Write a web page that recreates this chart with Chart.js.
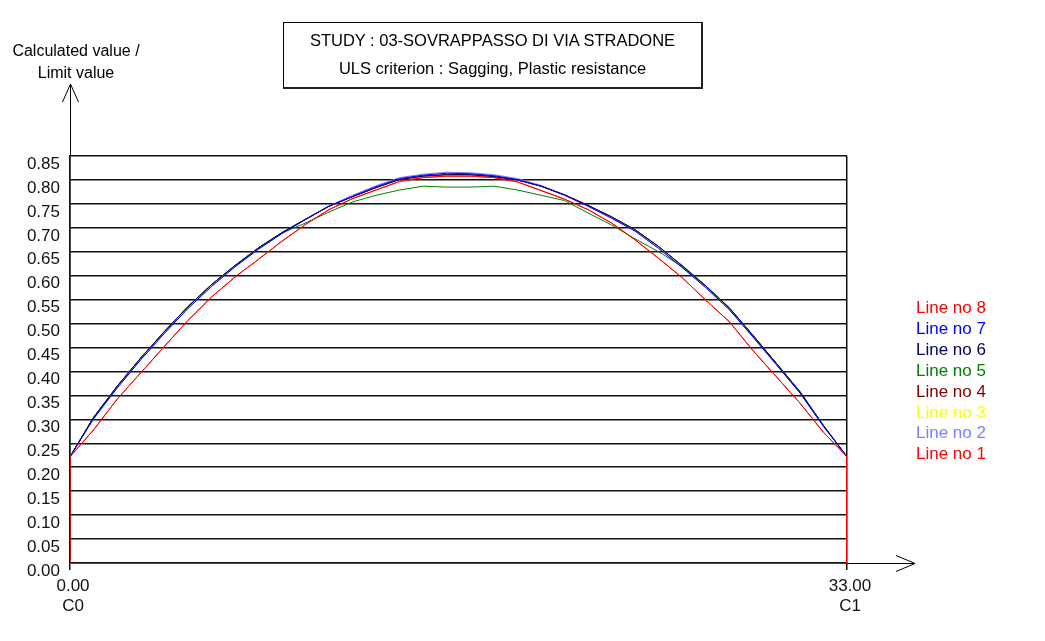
<!DOCTYPE html>
<html>
<head>
<meta charset="utf-8">
<title>ULS criterion : Sagging, Plastic resistance</title>
<script src="https://cdn.jsdelivr.net/npm/chart.js@4.4.0/dist/chart.umd.min.js"></script>
<style>
  html, body { margin: 0; padding: 0; background: #fff; }
  #wrap {
    position: relative;
    width: 1045px;
    height: 641px;
    font-family: "Liberation Sans", Arial, sans-serif;
    color: #000;
  }
  #chart { position: absolute; left: 0; top: 0; }
  .study {
    position: absolute;
    left: 283px;
    top: 22px;
    width: 420px;
    height: 67px;
    border: 1px solid #000;
    border-right: 2px solid #222;
    border-bottom: 2px solid #222;
    font-size: 16.5px;
    text-align: center;
    line-height: 28px;
    box-sizing: border-box;
    padding-top: 3px;
  }
  .ytitle {
    position: absolute;
    left: 0;
    top: 40px;
    width: 152px;
    font-size: 16px;
    line-height: 22px;
    text-align: center;
  }
  .legend {
    position: absolute;
    left: 916px;
    top: 298px;
    font-size: 17px;
    line-height: 20.9px;
  }
</style>
</head>
<body>
<div id="wrap">
  <canvas id="chart" width="1045" height="641"></canvas>
  <div class="study">STUDY : 03-SOVRAPPASSO DI VIA STRADONE<br>ULS criterion : Sagging, Plastic resistance</div>
  <div class="ytitle">Calculated value /<br>Limit value</div>
  <div class="legend" id="legend"></div>
</div>
<script>
// Abscissa along the deck (m), one value per station
const stations = [0, 1, 2, 3, 4, 5, 6, 7, 8, 9, 10, 11, 12, 13, 14, 15, 16,
                  17, 18, 19, 20, 21, 22, 23, 24, 25, 26, 27, 28, 29, 30, 31, 32, 33];

// Supports and their names
const supports = [0, 33];
const supportNames = ['C0', 'C1'];

// Vertical scale
const yMax = 0.85;
const yStep = 0.05;

// Calculated value / limit value for each line
const line8 = [0.222, 0.278, 0.342, 0.397, 0.452, 0.506, 0.555, 0.597, 0.634, 0.672, 0.707, 0.738,
               0.761, 0.779, 0.797, 0.805, 0.808, 0.808, 0.805, 0.796, 0.778, 0.760, 0.738, 0.710,
               0.675, 0.636, 0.596, 0.549, 0.504, 0.444, 0.389, 0.334, 0.273, 0.222];
const line7 = [0.222, 0.301, 0.365, 0.424, 0.479, 0.531, 0.577, 0.618, 0.655, 0.688, 0.717, 0.745,
               0.766, 0.786, 0.803, 0.810, 0.814, 0.813, 0.809, 0.801, 0.787, 0.768, 0.745, 0.720,
               0.693, 0.657, 0.617, 0.575, 0.529, 0.472, 0.414, 0.355, 0.285, 0.222];
const line6 = [0.222, 0.304, 0.369, 0.428, 0.483, 0.535, 0.581, 0.621, 0.658, 0.690, 0.718, 0.745,
               0.765, 0.784, 0.801, 0.808, 0.811, 0.811, 0.807, 0.800, 0.787, 0.769, 0.747, 0.723,
               0.696, 0.661, 0.621, 0.579, 0.533, 0.476, 0.417, 0.358, 0.287, 0.222];
const line5 = [0.222, 0.304, 0.369, 0.428, 0.483, 0.535, 0.581, 0.621, 0.658, 0.689, 0.710, 0.733,
               0.754, 0.768, 0.779, 0.787, 0.785, 0.785, 0.787, 0.779, 0.768, 0.757, 0.731, 0.706,
               0.677, 0.650, 0.619, 0.578, 0.532, 0.475, 0.416, 0.357, 0.287, 0.222];
const line4 = [0.222, 0.304, 0.369, 0.428, 0.483, 0.535, 0.581, 0.621, 0.658, 0.690, 0.718, 0.745,
               0.765, 0.784, 0.801, 0.808, 0.811, 0.811, 0.807, 0.800, 0.787, 0.769, 0.747, 0.723,
               0.696, 0.661, 0.621, 0.579, 0.533, 0.476, 0.417, 0.358, 0.287, 0.222];
const line3 = [0.222, 0.304, 0.369, 0.428, 0.483, 0.535, 0.581, 0.621, 0.658, 0.690, 0.718, 0.745,
               0.765, 0.784, 0.801, 0.808, 0.811, 0.811, 0.807, 0.800, 0.787, 0.769, 0.747, 0.723,
               0.696, 0.661, 0.621, 0.579, 0.533, 0.476, 0.417, 0.358, 0.287, 0.222];
const line2 = [0.222, 0.302, 0.366, 0.425, 0.480, 0.532, 0.578, 0.619, 0.656, 0.689, 0.718, 0.746,
               0.768, 0.788, 0.805, 0.812, 0.816, 0.815, 0.811, 0.803, 0.789, 0.769, 0.746, 0.721,
               0.694, 0.658, 0.618, 0.576, 0.530, 0.473, 0.415, 0.356, 0.286, 0.222];
const line1 = [0.222, 0.278, 0.342, 0.397, 0.452, 0.506, 0.555, 0.597, 0.634, 0.672, 0.707, 0.738,
               0.761, 0.779, 0.797, 0.805, 0.808, 0.808, 0.805, 0.796, 0.778, 0.760, 0.738, 0.710,
               0.675, 0.636, 0.596, 0.549, 0.504, 0.444, 0.389, 0.334, 0.273, 0.222];

const seriesNames = ['Line no 8', 'Line no 7', 'Line no 6', 'Line no 5',
                     'Line no 4', 'Line no 3', 'Line no 2', 'Line no 1'];
const seriesValues = [line8, line7, line6, line5, line4, line3, line2, line1];
const seriesColors = ['#ff0000', '#0000ff', '#000060', '#008000',
                      '#800000', '#ffff00', '#8080ff', '#ff0000'];

// Lines 1 and 8 also show the zero-to-value drop at each support
function toPoints(values, withSupports) {
    const pts = stations.map((x, i) => ({ x: x, y: values[i] }));
    if (withSupports) {
        pts.unshift({ x: supports[0], y: 0 });
        pts.push({ x: supports[1], y: 0 });
    }
    return pts;
}

const datasets = seriesNames.map((name, i) => ({
    label: name,
    data: toPoints(seriesValues[i], name === 'Line no 1' || name === 'Line no 8'),
    borderColor: seriesColors[i],
    borderWidth: 1,
    pointRadius: 0,
    tension: 0,
    fill: false
}));

// Arrow heads on both axes
const axisArrows = {
    id: 'axisArrows',
    afterDraw(chart) {
        const { ctx, chartArea: a } = chart;
        const x0 = Math.round(a.left) + 0.5;
        const y0 = Math.round(a.bottom) + 0.5;
        const yTip = a.top - 72;
        const xTip = a.right + 68;
        ctx.save();
        ctx.strokeStyle = '#000';
        ctx.lineWidth = 1;
        ctx.beginPath();
        ctx.moveTo(x0, a.top);
        ctx.lineTo(x0, yTip);
        ctx.moveTo(x0 - 8, yTip + 18);
        ctx.lineTo(x0, yTip);
        ctx.lineTo(x0 + 8, yTip + 18);
        ctx.moveTo(a.right, y0);
        ctx.lineTo(xTip, y0);
        ctx.moveTo(xTip - 19, y0 - 8);
        ctx.lineTo(xTip, y0);
        ctx.lineTo(xTip - 19, y0 + 8);
        ctx.stroke();
        ctx.restore();
    }
};

const ctx = document.getElementById('chart').getContext('2d');
new Chart(ctx, {
    type: 'line',
    data: { datasets: datasets },
    options: {
        responsive: false,
        animation: false,
        devicePixelRatio: 1,
        layout: { padding: { top: 156, right: 198, bottom: 0, left: 0 } },
        plugins: {
            legend: { display: false },
            tooltip: { enabled: false }
        },
        scales: {
            x: {
                type: 'linear',
                min: supports[0],
                max: supports[1],
                afterFit(scale) { scale.height = 78; },
                afterBuildTicks(scale) {
                    scale.ticks = supports.map(v => ({ value: v }));
                },
                grid: { color: '#111', lineWidth: 1.5, tickLength: 7, drawTicks: true },
                border: { color: '#111', width: 1.5 },
                ticks: {
                    color: '#111',
                    font: { family: '"Liberation Sans", Arial, sans-serif', size: 17 },
                    maxRotation: 0,
                    padding: 6,
                    labelOffset: 3,
                    autoSkip: false,
                    callback: (v) => [v.toFixed(2), supportNames[supports.indexOf(v)]]
                }
            },
            y: {
                min: 0,
                max: yMax,
                afterFit(scale) { scale.width = 70; },
                grid: { color: '#111', lineWidth: 1.5, drawTicks: false },
                border: { color: '#111', width: 1.5 },
                ticks: {
                    stepSize: yStep,
                    color: '#111',
                    padding: 10,
                    labelOffset: 8,
                    font: { family: '"Liberation Sans", Arial, sans-serif', size: 17 },
                    callback: (v) => v.toFixed(2)
                }
            }
        }
    },
    plugins: [axisArrows]
});

// Legend, listed from the last line down to the first
const legend = document.getElementById('legend');
seriesNames.forEach((name, i) => {
    const row = document.createElement('div');
    row.textContent = name;
    row.style.color = seriesColors[i];
    legend.appendChild(row);
});
</script>
</body>
</html>
